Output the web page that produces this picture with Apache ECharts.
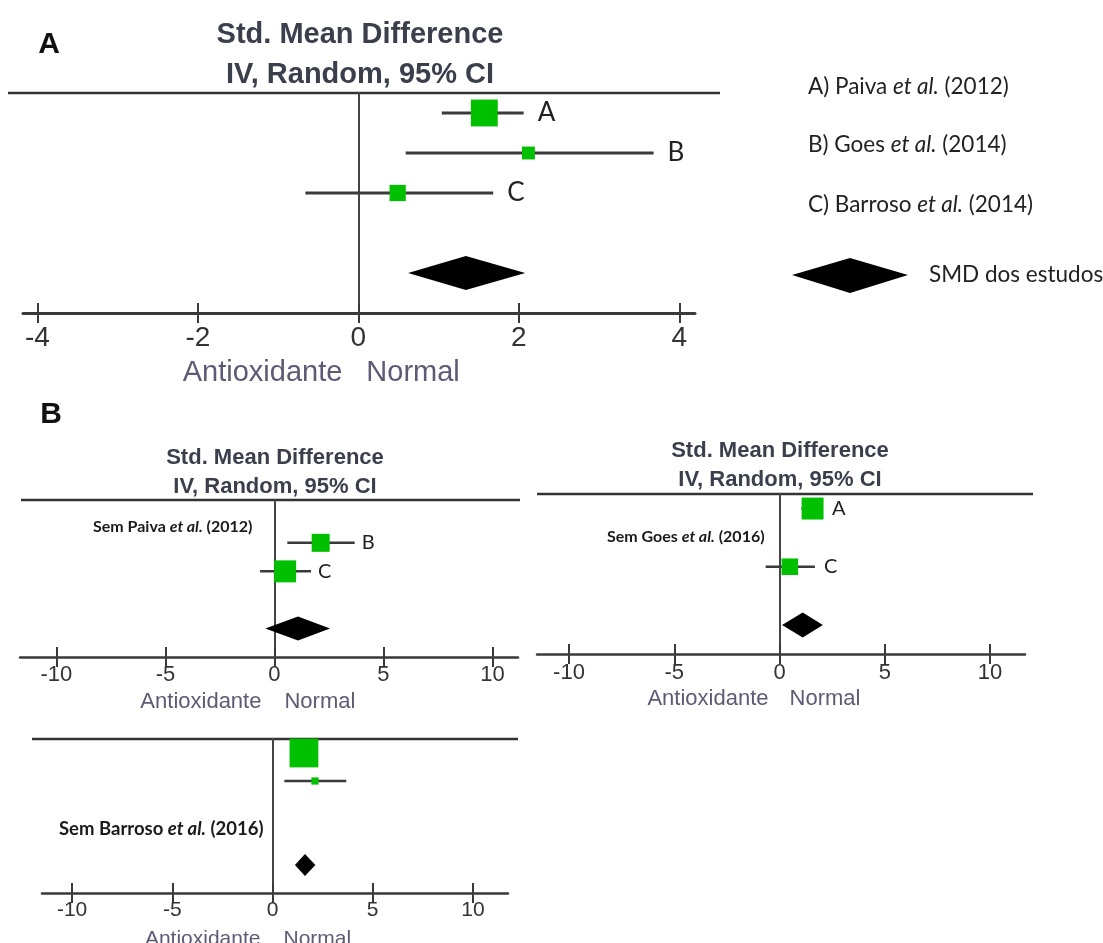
<!DOCTYPE html>
<html>
<head>
<meta charset="utf-8">
<script src="https://cdn.jsdelivr.net/npm/echarts@6/dist/echarts.min.js"></script>
<style>
  html, body { margin: 0; padding: 0; background: #ffffff; }
  #chart { width: 1103px; height: 943px; }
</style>
</head>
<body>
<div id="chart"></div>
<script>
// ---- Studies (standardised mean difference, 95% CI) ----
const studyLetters = ['A', 'B', 'C'];
const studyAuthors = ['Paiva', 'Goes', 'Barroso'];
const studyYears = ['2012', '2014', '2014'];
const studySmd = [1.57, 2.12, 0.49];
const studyLow = [1.04, 0.59, -0.66];
const studyHigh = [2.06, 3.68, 1.68];

// ---- Analyses: all studies, then each study left out ----
const panelStudies = [[0, 1, 2], [1, 2], [0, 2], [0, 1]];
const panelWeights = [[48, 23, 29], [45, 55], [57, 43], [80, 20]];
const pooledSmd = [1.34, 1.08, 1.10, 1.62];
const pooledLow = [0.62, -0.42, 0.12, 1.12];
const pooledHigh = [2.08, 2.55, 2.06, 2.14];
const omittedAuthor = ['', 'Paiva', 'Goes', 'Barroso'];
const omittedYear = ['', '2012', '2016', '2016'];

// ---- Axis ticks ----
const ticksMain = [-4, -2, 0, 2, 4];
const ticksSub = [-10, -5, 0, 5, 10];

const FONT_SANS = '"Liberation Sans", Arial, sans-serif';
const FONT_HUM = 'Lato, "Open Sans", sans-serif';
const GREEN = '#00c000';
const INK = '#3a3a3a';
const TITLE_INK = '#3b3f4c';
const NAME_INK = '#5e5a74';

// Layout and style of each forest plot
const panels = [
  { grid: { left: 23, top: 93, width: 672, height: 220 }, min: -4.18, max: 4.196, ticks: ticksMain,
    tickFont: 28, labelMargin: 11, axisWidth: 3, ciWidth: 3, boxScale: 0.56, showLetters: true,
    letterFont: 26, letterGap: 14, diamondHalf: 17, topLine: [8, 720],
    title: { x: 360, y1: 35, y2: 75, size: 29 }, axisName: { size: 29, y: 373, left: 16, right: 8 },
    note: null },
  { grid: { left: 20, top: 500, width: 498, height: 157 }, min: -11.67, max: 11.17, ticks: ticksSub,
    tickFont: 22, labelMargin: 7, axisWidth: 2.5, ciWidth: 2.5, boxScale: 0.4, showLetters: true,
    letterFont: 20, letterGap: 7, diamondHalf: 12, topLine: [21, 520],
    title: { x: 275, y1: 458, y2: 487, size: 22 }, axisName: { size: 22, y: 702, left: 13, right: 10 },
    note: { x: 93, y: 527, size: 16 } },
  { grid: { left: 537, top: 494, width: 488, height: 160 }, min: -11.52, max: 11.66, ticks: ticksSub,
    tickFont: 22, labelMargin: 8, axisWidth: 2.5, ciWidth: 2.5, boxScale: 0.385, showLetters: true,
    letterFont: 20, letterGap: 9, diamondHalf: 12.5, topLine: [537, 1033],
    title: { x: 780, y1: 451, y2: 480, size: 22 }, axisName: { size: 22, y: 699, left: 11, right: 10 },
    note: { x: 607, y: 537, size: 16 } },
  { grid: { left: 42, top: 739, width: 466, height: 154 }, min: -11.5, max: 11.75, ticks: ticksSub,
    tickFont: 21, labelMargin: 7, axisWidth: 2.5, ciWidth: 2.5, boxScale: 0.36, showLetters: false,
    letterFont: 20, letterGap: 9, diamondHalf: 11, topLine: [32, 518],
    title: null, axisName: { size: 21, y: 939, left: 12, right: 11 },
    note: { x: 59, y: 829, size: 18.5 } }
];

const pooledRow = studyLetters.length + 1;

const grids = [], xAxes = [], yAxes = [], series = [];

panels.forEach((cfg, p) => {
  const ids = panelStudies[p];
  grids.push(Object.assign({ containLabel: false }, cfg.grid));

  const baseX = { type: 'value', gridIndex: p, position: 'bottom', min: cfg.min, max: cfg.max,
    splitLine: { show: false } };
  // ticks below the line, with labels
  xAxes.push(Object.assign({}, baseX, {
    axisLine: { show: true, onZero: false, lineStyle: { color: INK, width: cfg.axisWidth } },
    axisTick: { show: true, inside: false, length: 10, customValues: cfg.ticks,
      lineStyle: { color: INK, width: 2 } },
    axisLabel: { show: true, customValues: cfg.ticks, margin: cfg.labelMargin, fontSize: cfg.tickFont,
      fontFamily: FONT_SANS, color: '#333333' }
  }));
  // ticks above the line
  xAxes.push(Object.assign({}, baseX, {
    axisLine: { show: false, onZero: false },
    axisTick: { show: true, inside: true, length: 10, customValues: cfg.ticks,
      lineStyle: { color: INK, width: 2 } },
    axisLabel: { show: false }
  }));
  yAxes.push({ type: 'value', gridIndex: p, min: -0.5, max: pooledRow + 1, inverse: true,
    axisLine: { show: true, onZero: true, onZeroAxisIndex: 2 * p, lineStyle: { color: '#444', width: 2 } },
    axisTick: { show: false }, axisLabel: { show: false }, splitLine: { show: false } });

  // confidence intervals
  series.push({
    type: 'custom', xAxisIndex: 2 * p, yAxisIndex: p, z: 2, silent: true,
    data: ids.map(i => [studyLow[i], studyHigh[i], i]),
    renderItem: (params, api) => {
      const row = api.value(2);
      const a = api.coord([api.value(0), row]);
      const b = api.coord([api.value(1), row]);
      const children = [{ type: 'line', shape: { x1: a[0], y1: a[1], x2: b[0], y2: b[1] },
        style: { stroke: INK, lineWidth: cfg.ciWidth } }];
      if (cfg.showLetters) {
        children.push({ type: 'text', x: b[0] + cfg.letterGap, y: b[1],
          style: { text: studyLetters[ids[params.dataIndex]], fontSize: cfg.letterFont,
            fontFamily: FONT_HUM, fill: '#222', align: 'left', verticalAlign: 'middle' } });
      }
      return { type: 'group', children };
    }
  });

  // study weights as boxes
  series.push({
    type: 'scatter', xAxisIndex: 2 * p, yAxisIndex: p, z: 3, silent: true, clip: false,
    symbol: 'rect',
    symbolSize: v => v[2] * cfg.boxScale,
    itemStyle: { color: GREEN, opacity: 1 },
    data: ids.map((i, k) => [studySmd[i], i, panelWeights[p][k]])
  });

  // pooled estimate
  series.push({
    type: 'custom', xAxisIndex: 2 * p, yAxisIndex: p, z: 3, silent: true,
    data: [[pooledSmd[p], pooledLow[p], pooledHigh[p], pooledRow]],
    renderItem: (params, api) => {
      const row = api.value(3);
      const c = api.coord([api.value(0), row]);
      const l = api.coord([api.value(1), row]);
      const r = api.coord([api.value(2), row]);
      const h = cfg.diamondHalf;
      return { type: 'polygon',
        shape: { points: [[l[0], c[1]], [c[0], c[1] - h], [r[0], c[1]], [c[0], c[1] + h]] },
        style: { fill: '#000000' } };
    }
  });
});

const chart = echarts.init(document.getElementById('chart'), null, { renderer: 'canvas' });
chart.setOption({
  animation: false,
  backgroundColor: '#ffffff',
  grid: grids, xAxis: xAxes, yAxis: yAxes, series: series
});

// ---- Decorations: titles, frame lines, legend, notes, direction labels ----
const graphics = [];

function txt(x, y, text, size, opts) {
  return Object.assign({ type: 'text', x: x, y: y, silent: true,
    style: Object.assign({ text: text, fontSize: size, fontFamily: FONT_SANS, fill: '#222',
      align: 'center', verticalAlign: 'middle' }, opts || {}) });
}

graphics.push(txt(49, 45, 'A', 30, { fontWeight: 'bold', fill: '#111' }));
graphics.push(txt(51, 415, 'B', 30, { fontWeight: 'bold', fill: '#111' }));

panels.forEach((cfg, p) => {
  graphics.push({ type: 'line', silent: true,
    shape: { x1: cfg.topLine[0], y1: cfg.grid.top, x2: cfg.topLine[1], y2: cfg.grid.top },
    style: { stroke: '#333', lineWidth: 2.5 } });
  if (cfg.title) {
    graphics.push(txt(cfg.title.x, cfg.title.y1, 'Std. Mean Difference', cfg.title.size,
      { fontWeight: 'bold', fill: TITLE_INK }));
    graphics.push(txt(cfg.title.x, cfg.title.y2, 'IV, Random, 95% CI', cfg.title.size,
      { fontWeight: 'bold', fill: TITLE_INK }));
  }
  if (cfg.note) {
    graphics.push(txt(cfg.note.x, cfg.note.y,
      'Sem ' + omittedAuthor[p] + ' {i|et al.} (' + omittedYear[p] + ')', cfg.note.size,
      { fontFamily: FONT_HUM, fontWeight: 'bold', fill: '#1a1a1a', align: 'left',
        rich: { i: { fontStyle: 'italic', fontWeight: 'bold', fontSize: cfg.note.size,
          fontFamily: FONT_HUM, fill: '#1a1a1a' } } }));
  }
  const zeroX = chart.convertToPixel({ xAxisIndex: 2 * p }, 0);
  graphics.push(txt(zeroX - cfg.axisName.left, cfg.axisName.y, 'Antioxidante', cfg.axisName.size,
    { align: 'right', fill: NAME_INK }));
  graphics.push(txt(zeroX + cfg.axisName.right, cfg.axisName.y, 'Normal', cfg.axisName.size,
    { align: 'left', fill: NAME_INK }));
});

// legend of studies
const legendY = [87, 145, 205];
const legendFont = 22.5;
studyLetters.forEach((s, i) => {
  graphics.push(txt(808, legendY[i],
    s + ') ' + studyAuthors[i] + ' {i|et al.} (' + studyYears[i] + ')', legendFont,
    { fontFamily: FONT_HUM, fill: '#222', align: 'left',
      rich: { i: { fontStyle: 'italic', fontSize: legendFont, fontFamily: FONT_HUM, fill: '#222' } } }));
});
graphics.push({ type: 'polygon', silent: true,
  shape: { points: [[792, 275], [850, 258], [908, 275], [850, 293]] },
  style: { fill: '#000000' } });
graphics.push(txt(929, 275, 'SMD dos estudos', legendFont, { fontFamily: FONT_HUM, fill: '#222', align: 'left' }));

chart.setOption({ graphic: { elements: graphics } });
</script>
</body>
</html>
